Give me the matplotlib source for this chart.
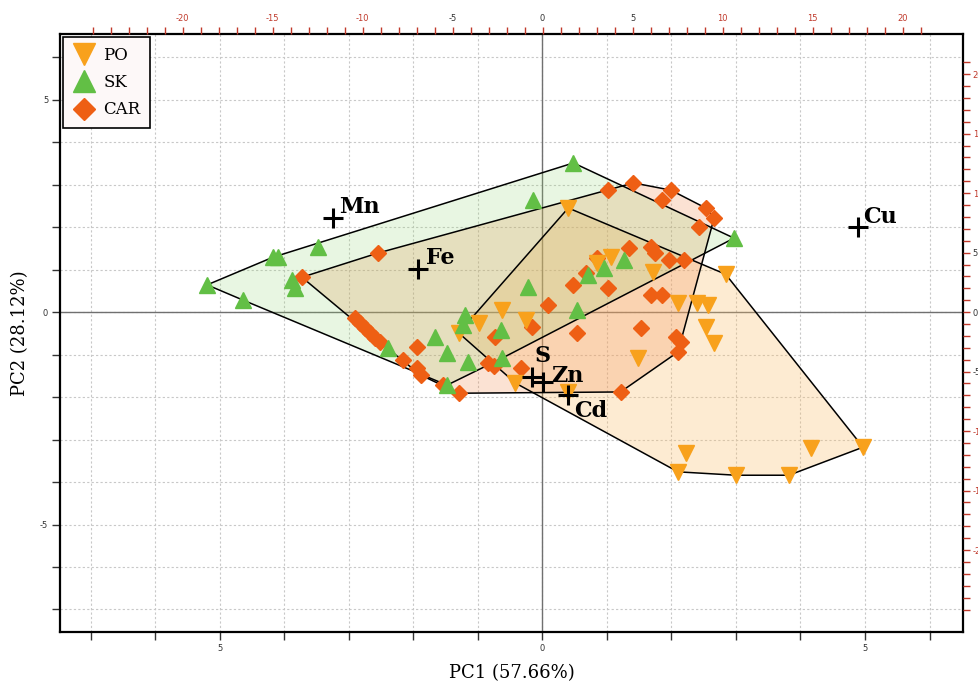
import numpy as np
import matplotlib.pyplot as plt

plt.rcParams['axes.unicode_minus'] = False

# PCA scores (PC1, PC2)
po_pc1 = [0.40, -1.30, -0.99, -0.62, -0.26, -0.42, 0.40, 0.85, 1.06, 1.72, 2.10, 2.39,
          2.56, 2.53, 2.66, 1.48, 2.84, 2.22, 2.10, 3.00, 3.82, 4.16, 4.97]
po_pc2 = [2.45, -0.49, -0.26, 0.05, -0.19, -1.67, -1.88, 1.15, 1.29, 0.94, 0.21, 0.21,
          0.16, -0.35, -0.73, -1.08, 0.89, -3.32, -3.76, -3.84, -3.84, -3.20, -3.18]

sk_pc1 = [-5.20, -4.64, -4.18, -4.10, -3.48, -3.88, -3.84, -2.39, -1.66, -1.48, -1.20, -1.24,
          -1.16, -1.48, -0.65, -0.62, -0.23, 0.54, 0.71, 0.95, 1.26, 0.48, -0.14, 2.97]
sk_pc2 = [0.64, 0.28, 1.29, 1.29, 1.53, 0.75, 0.56, -0.85, -0.59, -0.96, -0.07, -0.31,
          -1.18, -1.72, -0.42, -1.08, 0.59, 0.05, 0.87, 1.04, 1.22, 3.51, 2.64, 1.74]

car_pc1 = [-3.73, -2.55, -2.90, -2.83, -2.75, -2.67, -2.59, -2.52, -1.94, -2.17, -1.94, -1.89,
           -1.55, -1.30, -0.84, -0.75, -0.73, -0.34, -0.16, 0.08, 0.48, 0.54, 0.67, 0.85,
           1.01, 1.02, 1.41, 1.99, 1.86, 2.53, 2.66, 2.42, 1.34, 1.68, 1.75, 1.96, 2.19,
           1.68, 1.86, 1.52, 2.07, 2.14, 2.10, 1.21]
car_pc2 = [0.82, 1.39, -0.14, -0.26, -0.38, -0.49, -0.61, -0.71, -0.82, -1.13, -1.32, -1.48,
           -1.72, -1.91, -1.20, -1.27, -0.59, -1.32, -0.35, 0.16, 0.64, -0.49, 0.92, 1.27,
           0.56, 2.87, 3.04, 2.87, 2.64, 2.45, 2.21, 2.00, 1.51, 1.53, 1.39, 1.22, 1.22,
           0.40, 0.40, -0.38, -0.59, -0.71, -0.94, -1.88]

# loadings (top / right axes)
load_names = ['Mn', 'Fe', 'S', 'Zn', 'Cd', 'Cu']
load_x = [-11.67, -6.94, -0.56, 0.0, 1.44, 17.5]
load_y = [7.90, 3.61, -5.46, -5.88, -6.95, 7.14]

groups = [
    ('PO', po_pc1, po_pc2, 'v', '#f8a11c', '#fbbf6a', 0.30),
    ('SK', sk_pc1, sk_pc2, '^', '#62bf45', '#8fd56e', 0.20),
    ('CAR', car_pc1, car_pc2, 'D', '#ee5f14', '#f28c50', 0.25),
]


def convex_hull(x, y):
    pts = sorted(set(zip(x, y)))

    def cross(o, a, b):
        return (a[0] - o[0]) * (b[1] - o[1]) - (a[1] - o[1]) * (b[0] - o[0])

    lower, upper = [], []
    for p in pts:
        while len(lower) >= 2 and cross(lower[-2], lower[-1], p) <= 0:
            lower.pop()
        lower.append(p)
    for p in reversed(pts):
        while len(upper) >= 2 and cross(upper[-2], upper[-1], p) <= 0:
            upper.pop()
        upper.append(p)
    return np.array(lower[:-1] + upper[:-1])


fig = plt.figure(figsize=(9.79, 6.84), dpi=100)
pos = [0.0613, 0.076, 0.9224, 0.874]
ax = fig.add_axes(pos)
ax.set_xlim(-7.48, 6.52)
ax.set_ylim(-7.53, 6.54)

ax.set_xticks(np.arange(-7, 7))
ax.set_xticklabels(['5' if v in (-5, 5) else '0' if v == 0 else '' for v in range(-7, 7)])
ax.set_yticks(np.arange(-7, 7))
ax.set_yticklabels([str(v) if v in (-5, 0, 5) else '' for v in range(-7, 7)])
ax.tick_params(direction='out', length=5.5, width=1, labelsize=6, colors='#333333', pad=3)
ax.grid(True, linestyle=(0, (2, 2)), color='#c8c8c8', lw=0.8)
ax.set_axisbelow(True)
for s in ax.spines.values():
    s.set_linewidth(1.6)
ax.axhline(0, color='#707070', lw=1, zorder=1)
ax.axvline(0, color='#707070', lw=1, zorder=1)

# hulls: fills first (PO, CAR, SK), then outlines
for name, x, y, m, c, fc, a in [groups[0], groups[2], groups[1]]:
    h = convex_hull(x, y)
    ax.fill(h[:, 0], h[:, 1], color=fc, alpha=a, lw=0, zorder=2)
for name, x, y, m, c, fc, a in groups:
    h = convex_hull(x, y)
    ax.fill(h[:, 0], h[:, 1], facecolor='none', edgecolor='black', lw=1.1, zorder=3)

ms = {'v': 11, '^': 11, 'D': 8}
for name, x, y, m, c, fc, a in [groups[2], groups[0], groups[1]]:
    ax.plot(x, y, linestyle='none', marker=m, ms=ms[m], color=c, mec=c, zorder=4)

handles = [ax.plot([], [], linestyle='none', marker=g[3], ms=ms[g[3]], color=g[4], label=g[0])[0]
           for g in groups]
leg = ax.legend(handles=handles, loc='upper left', fancybox=False, edgecolor='black',
                facecolor='#fdf8f8', framealpha=1, prop={'family': 'DejaVu Serif', 'size': 12},
                borderaxespad=0.15, handletextpad=0.45, labelspacing=0.62, borderpad=0.6,
                markerscale=1.4, handlelength=1.4)
leg.get_frame().set_linewidth(1.2)
leg.set_zorder(10)

ax.set_xlabel('PC1 (57.66%)', family='DejaVu Serif', fontsize=13, labelpad=8)
ax.set_ylabel('PC2 (28.12%)', family='DejaVu Serif', fontsize=13, labelpad=8)

# loadings on secondary axes
ax2 = fig.add_axes(pos, frameon=False)
ax2.patch.set_visible(False)
ax2.set_xlim(-26.81, 23.36)
ax2.set_ylim(-26.89, 23.36)
ax2.xaxis.tick_top()
ax2.yaxis.tick_right()
ticks2 = np.arange(-25, 22)
lab2 = [str(v) if v % 5 == 0 and abs(v) <= 20 else '' for v in ticks2]
ax2.set_xticks(ticks2)
ax2.set_xticklabels(lab2)
ax2.set_yticks(ticks2)
ax2.set_yticklabels(lab2)
ax2.tick_params(direction='out', length=5, width=1, color='#c0392b', labelsize=6)
ax2.tick_params(axis='x', pad=3)
ax2.tick_params(axis='y', pad=2)
for t, v in zip(ax2.get_xticklabels() + ax2.get_yticklabels(), list(ticks2) * 2):
    t.set_color('#c0392b' if abs(v) >= 10 else '#333333')

offsets = {'Mn': ((5, 4), 'left', 'baseline'), 'Fe': ((6, 4), 'left', 'baseline'),
           'S': ((7, 11), 'center', 'baseline'), 'Zn': ((6, 0), 'left', 'baseline'),
           'Cd': ((4, -4), 'left', 'top'), 'Cu': ((4, 3), 'left', 'baseline')}
ax2.plot(load_x, load_y, linestyle='none', marker='+', ms=14, mew=2.2, color='black', zorder=5)
for n, lx, ly in zip(load_names, load_x, load_y):
    off, ha, va = offsets[n]
    ax2.annotate(n, (lx, ly), xytext=off, textcoords='offset points', ha=ha, va=va,
                 family='DejaVu Serif', fontweight='bold', fontsize=16, zorder=6)

fig.savefig('out.png', dpi=100)
